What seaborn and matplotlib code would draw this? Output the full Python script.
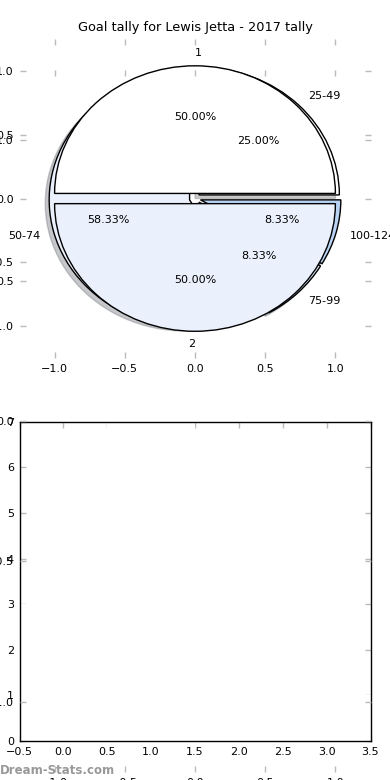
import matplotlib
matplotlib.use('Agg')
import matplotlib.pyplot as plt
import seaborn as sns
import numpy as np
from matplotlib.ticker import MultipleLocator

# ---- data ----
title = "Goal tally for Lewis Jetta - 2017 tally"
half_labels = ['1', '2']
half_values = [1, 1]
half_colors = ['#ffffff', '#eaf0fc']
range_labels = ['25-49', '50-74', '75-99', '100-124']
range_values = [3, 7, 1, 1]
range_colors = ['#ffffff', '#eaf0fc', '#d3e2f8', '#b9d3f5']
bar_positions = [0, 1, 2, 3]
pie_ticks = [-1.0, -0.5, 0.0, 0.5, 1.0]
watermark = 'Dream-Stats.com'

sns.set_style('white')
plt.rcParams.update({
    'font.family': ['DejaVu Sans'],
    'text.color': 'black',
    'axes.labelcolor': 'black',
    'xtick.direction': 'in', 'ytick.direction': 'in',
    'xtick.top': True, 'ytick.right': True,
    'xtick.bottom': True, 'ytick.left': True,
    'xtick.color': '#bbbbbb', 'ytick.color': '#bbbbbb',
    'xtick.labelcolor': 'black', 'ytick.labelcolor': 'black',
    'xtick.major.size': 4, 'ytick.major.size': 4,
    'xtick.major.width': 1, 'ytick.major.width': 1,
    'xtick.labelsize': 8, 'ytick.labelsize': 8,
    'xtick.major.pad': 4, 'ytick.major.pad': 4,
})

fig = plt.figure(figsize=(3.9, 7.8), dpi=100)
fig.subplots_adjust(left=0.05, right=0.95, bottom=0.05, top=0.95, hspace=0.2)
ax_pie = fig.add_subplot(211)
ax_bar = fig.add_subplot(212)
ax_big = fig.add_axes([0.05, 8 / 780, 0.9, 702 / 780])

wp = dict(edgecolor='black', linewidth=1)
ax_pie.pie(range_values, labels=range_labels, colors=range_colors,
           explode=[0.04] * len(range_values), autopct='%1.2f%%',
           shadow=dict(ox=-0.02, oy=-0.02, shade=0.45, alpha=0.45),
           wedgeprops=wp, textprops=dict(fontsize=8))
_, htexts, _ = ax_pie.pie(half_values, labels=half_labels, colors=half_colors,
                          explode=[0.04] * len(half_values), autopct='%1.2f%%',
                          wedgeprops=wp, textprops=dict(fontsize=8))
htexts[0].set_horizontalalignment('left')
htexts[1].set_horizontalalignment('right')
ax_pie.set_aspect('auto')
ax_pie.set_xlim(-1.25, 1.25)
ax_pie.set_ylim(-1.25, 1.25)
ax_pie.set_xticks(pie_ticks)
ax_pie.set_yticks(pie_ticks)
ax_pie.set_frame_on(False)
ax_pie.set_title(title, fontsize=9.3)

sns.barplot(x=bar_positions, y=range_values, ax=ax_bar, native_scale=True,
            width=1, color='white', linewidth=0, errorbar=None)
ax_bar.set_xlim(-0.5, 3.5)
ax_bar.set_ylim(0, 7)
ax_bar.xaxis.set_major_locator(MultipleLocator(0.5))
ax_bar.yaxis.set_major_locator(MultipleLocator(1))
ax_bar.set_xlabel('')
ax_bar.set_ylabel('')
for s in ax_bar.spines.values():
    s.set_visible(True)
    s.set_color('black')
    s.set_linewidth(1)
ax_bar.tick_params(which='both', top=True, right=True, direction='in')

ax_big.patch.set_visible(False)
ax_big.set_frame_on(False)
ax_big.set_xlim(-1.25, 1.25)
ax_big.set_ylim(-1.25, 1.25)
ax_big.set_xticks(pie_ticks)
ax_big.set_yticks(pie_ticks)

fig.text(0.0, 1 - 770 / 780, watermark, color='#999999', fontsize=8.5,
         fontweight='bold', va='center', ha='left')

fig.savefig('out.png', dpi=100)
